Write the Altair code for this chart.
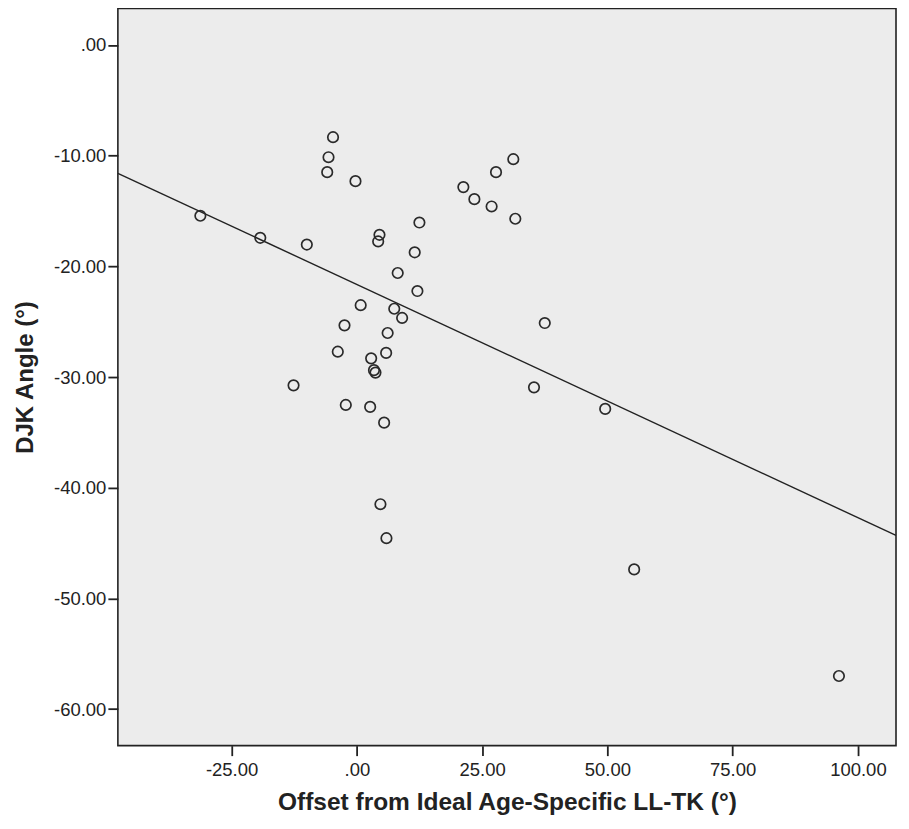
import altair as alt
import pandas as pd

offset = [-4.76, -5.66, -5.92, -31.24, -19.28, -9.99, -0.28, 12.48, 4.51, 4.25,
          11.54, 31.22, 27.77, 21.25, 23.45, 26.89, 31.62, 37.50, 8.15, 12.08,
          0.76, 7.46, 9.03, -2.47, 6.14, -3.81, 5.84, 2.85, 3.41, 3.71,
          -12.64, -2.21, 2.65, 5.44, 4.70, 5.90, 35.35, 49.56, 55.34, 96.21]
djk = [-8.33, -10.14, -11.49, -15.43, -17.42, -18.03, -12.30, -16.04, -17.15, -17.75,
       -18.73, -10.32, -11.49, -12.84, -13.93, -14.59, -15.70, -25.12, -20.60, -22.23,
       -23.51, -23.83, -24.66, -25.33, -26.02, -27.71, -27.82, -28.31, -29.38, -29.60,
       -30.75, -32.52, -32.70, -34.12, -41.49, -44.56, -30.93, -32.88, -47.38, -57.01]
x_ticks = [-25, 0, 25, 50, 75, 100]
y_ticks = [0, -10, -20, -30, -40, -50, -60]
x_domain = [-47.7, 107.6]
y_domain = [-63.3, 3.3]

df = pd.DataFrame({"offset": offset, "djk": djk})

FONT = "Liberation Sans, Arial, sans-serif"
label_expr = "datum.value == 0 ? '.00' : replace(format(datum.value, '.2f'), '\u2212', '-')"

x_enc = alt.X("offset:Q",
              scale=alt.Scale(domain=x_domain, nice=False, zero=False),
              axis=alt.Axis(values=x_ticks, labelExpr=label_expr,
                            title="Offset from Ideal Age-Specific LL-TK (°)"))
y_enc = alt.Y("djk:Q",
              scale=alt.Scale(domain=y_domain, nice=False, zero=False),
              axis=alt.Axis(values=y_ticks, labelExpr=label_expr,
                            title="DJK Angle (°)"))

points = alt.Chart(df).mark_point(shape="circle", filled=False, size=110,
                                  strokeWidth=1.7, color="#2a2a2a", opacity=1).encode(
    x=x_enc, y=y_enc)

line = alt.Chart(df).transform_regression(
    "offset", "djk", extent=x_domain
).mark_line(color="#222222", strokeWidth=1.4, clip=True).encode(x=x_enc, y=y_enc)

chart = alt.layer(line, points).properties(
    width=779, height=738,
    padding={"left": 5, "top": 0, "right": 5, "bottom": 5},
).configure_view(
    fill="#ececec", stroke="#222222", strokeWidth=1.6
).configure_axis(
    grid=False,
    domain=False,
    tickColor="#222222", tickSize=10, tickWidth=1.8,
    labelFont=FONT, labelFontSize=18.5, labelColor="#222222",
    titleFont=FONT, titleFontWeight="bold", titleColor="#222222",
).configure_axisX(
    titlePadding=11, labelPadding=5, titleFontSize=24.5
).configure_axisY(
    titlePadding=16, labelPadding=2, titleFontSize=24
)

chart.save("out.html", embed_options={"renderer": "svg", "actions": False})
